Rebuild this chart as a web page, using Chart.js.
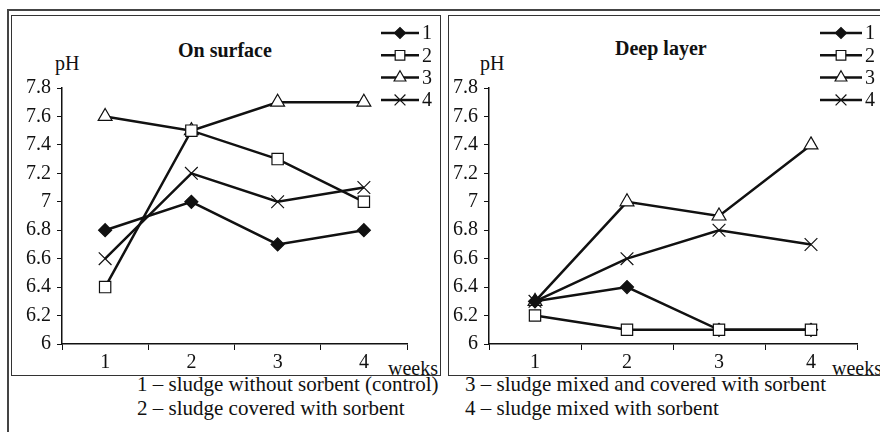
<!DOCTYPE html>
<html>
<head>
<meta charset="utf-8">
<title>pH of sludge</title>
<script src="https://cdn.jsdelivr.net/npm/chart.js"></script>
<style>
  body { margin: 0; width: 880px; height: 432px; overflow: hidden; background: #fff;
         font-family: "Liberation Serif", "Times New Roman", serif; color: #111; position: relative; }
  .frame { position: absolute; left: 7px; top: 9px; width: 900px; height: 440px;
           border-left: 2px solid #444; border-top: 2px solid #444; }
  .box { position: absolute; top: 15px; height: 361px; border: 1.5px solid #333; box-sizing: border-box; }
  .lbl { position: absolute; font-size: 20px; white-space: nowrap; line-height: 1; }
  .cap { position: absolute; font-size: 21px; white-space: nowrap; line-height: 1; }
  .ttl { position: absolute; font-size: 20px; font-weight: bold; white-space: nowrap; line-height: 1; }
  canvas { position: absolute; }
</style>
</head>
<body>
<div class="frame"></div>
<div class="box" style="left:11px; width:430px;"></div>
<div class="box" style="left:448px; width:450px;"></div>

<div class="ttl" style="left:178px; top:40px;">On surface</div>
<div class="ttl" style="left:615px; top:38px;">Deep layer</div>
<div class="lbl" style="left:55px; top:53px;">pH</div>
<div class="lbl" style="left:480px; top:53px;">pH</div>
<div class="lbl" style="left:388px; top:358px;">weeks</div>
<div class="lbl" style="left:832px; top:358px;">weeks</div>

<div class="cap" style="left:137px; top:374px;">1 – sludge without sorbent (control)</div>
<div class="cap" style="left:137px; top:398px;">2 – sludge covered with sorbent</div>
<div class="cap" style="left:465px; top:374px;">3 – sludge mixed and covered with sorbent</div>
<div class="cap" style="left:465px; top:398px;">4 – sludge mixed with sorbent</div>

<canvas id="surface" width="427" height="360" style="left:12px; top:16px;"></canvas>
<canvas id="deep" width="431" height="360" style="left:449px; top:16px;"></canvas>

<script>
const weeks = ['1', '2', '3', '4'];
const seriesNames = ['1', '2', '3', '4'];

// pH on surface
const surface1 = [6.8, 7.0, 6.7, 6.8];
const surface2 = [6.4, 7.5, 7.3, 7.0];
const surface3 = [7.6, 7.5, 7.7, 7.7];
const surface4 = [6.6, 7.2, 7.0, 7.1];

// pH in deep layer
const deep1 = [6.3, 6.4, 6.1, 6.1];
const deep2 = [6.2, 6.1, 6.1, 6.1];
const deep3 = [6.3, 7.0, 6.9, 7.4];
const deep4 = [6.3, 6.6, 6.8, 6.7];

const yMin = 6, yMax = 7.8, yStep = 0.2;

const serif = '"Liberation Serif", "Times New Roman", serif';
const ink = '#111';

// marker look for each series
const markers = [
  { pointStyle: 'rectRot', radius: 6.5, fill: ink, order: 1 },
  { pointStyle: 'rect', radius: 8, fill: '#fff', order: 0 },
  { pointStyle: 'triangle', radius: 8, fill: '#fff', order: 2 },
  { pointStyle: 'crossRot', radius: 9, fill: '#fff', order: 3 }
];

// legend: line with the marker in the middle, label to the right
const lineLegend = {
  id: 'lineLegend',
  afterDraw(chart, args, opts) {
    const ctx = chart.ctx;
    ctx.save();
    chart.data.datasets.forEach((ds, i) => {
      const y = opts.top + i * opts.gap;
      ctx.strokeStyle = ink;
      ctx.lineWidth = 2.5;
      ctx.beginPath();
      ctx.moveTo(opts.x1, y);
      ctx.lineTo(opts.x2, y);
      ctx.stroke();
      const m = markers[i];
      ctx.fillStyle = m.fill;
      ctx.lineWidth = 1.2;
      Chart.helpers.drawPoint(ctx, {
        pointStyle: m.pointStyle, radius: m.radius * 0.85, rotation: 0, borderWidth: 1.2
      }, (opts.x1 + opts.x2) / 2, y);
      ctx.fillStyle = ink;
      ctx.font = '20px ' + serif;
      ctx.textBaseline = 'middle';
      ctx.textAlign = 'left';
      ctx.fillText(seriesNames[i], opts.x2 + 3, y + 1);
    });
    ctx.restore();
  }
};

function makeChart(id, values, pad, yWidth, legendX) {
  new Chart(document.getElementById(id), {
    type: 'line',
    data: {
      labels: weeks,
      datasets: values.map((v, i) => ({
        label: seriesNames[i],
        data: v,
        order: markers[i].order,
        borderColor: ink,
        borderWidth: 2.5,
        tension: 0,
        pointStyle: markers[i].pointStyle,
        pointRadius: markers[i].radius,
        pointHoverRadius: markers[i].radius,
        pointBackgroundColor: markers[i].fill,
        pointBorderColor: ink,
        pointBorderWidth: 1.2
      }))
    },
    options: {
      responsive: false,
      animation: false,
      layout: { padding: pad },
      plugins: {
        legend: { display: false },
        tooltip: { enabled: false },
        lineLegend: { x1: legendX[0], x2: legendX[1], top: 17, gap: 22.3 }
      },
      scales: {
        x: {
          offset: true,
          border: { color: ink, width: 1.5 },
          grid: { display: true, drawOnChartArea: false, drawTicks: true, tickLength: 6, color: ink, offset: true },
          ticks: { color: ink, font: { family: serif, size: 20 }, padding: 1, maxRotation: 0 },
          afterFit: s => { s.height = 32; }
        },
        y: {
          min: yMin,
          max: yMax,
          border: { color: ink, width: 1.5 },
          grid: { display: true, drawOnChartArea: false, drawTicks: true, tickLength: 5, color: ink },
          ticks: {
            stepSize: yStep,
            color: ink,
            padding: 6,
            font: { family: serif, size: 20 },
            callback: v => String(+v.toFixed(1))
          },
          afterFit: s => { s.width = yWidth; }
        }
      }
    },
    plugins: [lineLegend]
  });
}

makeChart('surface', [surface1, surface2, surface3, surface4],
  { top: 72, right: 32, bottom: 0, left: 0 }, 50, [369, 407]);
makeChart('deep', [deep1, deep2, deep3, deep4],
  { top: 72, right: 23, bottom: 0, left: 0 }, 40, [371, 413]);
</script>
</body>
</html>
